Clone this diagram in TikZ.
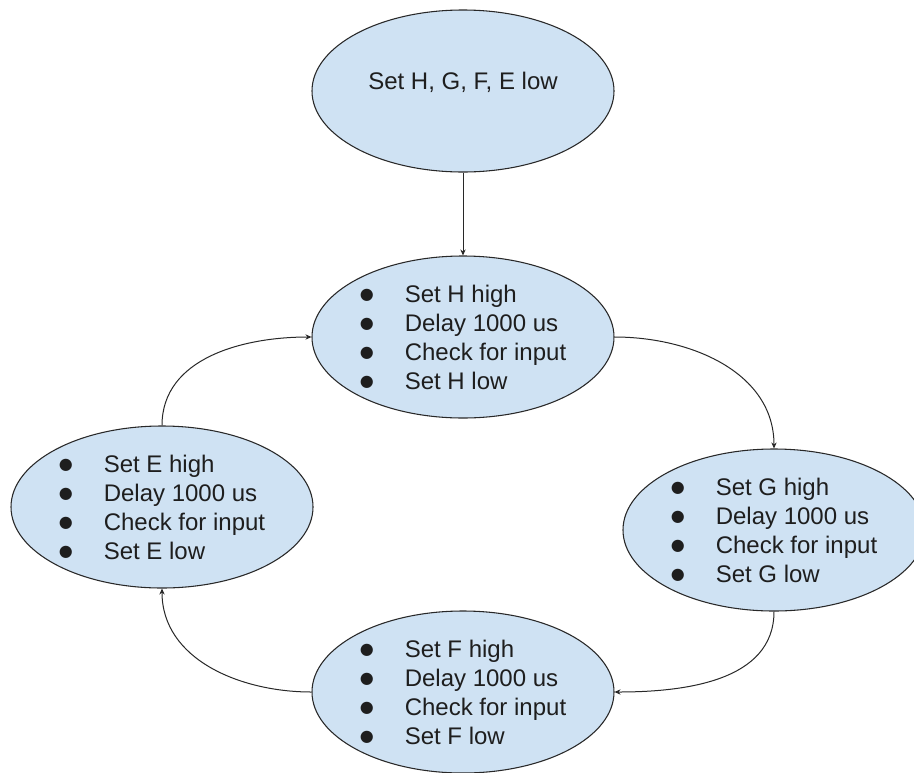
\documentclass[tikz,border=0pt]{standalone}
\usepackage{fontspec}
\setmainfont{Liberation Sans}
\newfontfamily\symfont{DejaVu Sans}
\usetikzlibrary{shapes.geometric,arrows.meta}
\definecolor{stateblue}{RGB}{207,226,243}
\definecolor{edgegray}{RGB}{40,40,40}
\definecolor{inkgray}{RGB}{30,30,30}
% list bullet followed by a fixed indent
\newcommand{\bul}{\makebox[33.75pt][l]{\raisebox{1.8pt}{\symfont\fontsize{12pt}{12pt}\selectfont ●}}}
\begin{document}
\begin{tikzpicture}[x=0.75pt,y=-0.75pt,
  state/.style={ellipse, draw=edgegray, line width=0.8pt, fill=stateblue,
    minimum width=226.5pt, minimum height=121.5pt, inner sep=0pt,
    align=left, text=inkgray, font=\fontsize{18pt}{21.75pt}\selectfont},
  plaintext/.style={inner sep=0pt, text=inkgray, font=\fontsize{18pt}{21.75pt}\selectfont},
  flow/.style={draw=edgegray, line width=0.75pt, -{Stealth[length=4.5pt,width=4pt]}}]
\useasboundingbox (0,0) rectangle (914,772);
\fill[white] (0,0) rectangle (914,772);
\clip (0,0) rectangle (914,772);

% initial state
\node[state] (init) at (463,91) {};
\node[plaintext] (initText) at (463,82) {Set H, G, F, E low};

% scan states
\node[state] (H) at (463,337) {\bul Set H high\\ \bul Delay 1000 us\\ \bul Check for input\\ \bul Set H low};
\node[state] (G) at (774,530) {\bul Set G high\\ \bul Delay 1000 us\\ \bul Check for input\\ \bul Set G low};
\node[state] (F) at (463,692) {\bul Set F high\\ \bul Delay 1000 us\\ \bul Check for input\\ \bul Set F low};
\node[state] (E) at (162,507) {\bul Set E high\\ \bul Delay 1000 us\\ \bul Check for input\\ \bul Set E low};

% transitions
\draw[flow] (init.south) -- (H.north);
\draw[flow] (H.east) to[out=0,in=90] (G.north);
\draw[flow] (G.south) to[out=-90,in=0] (F.east);
\draw[flow] (F.west) to[out=180,in=-90] (E.south);
\draw[flow] (E.north) to[out=90,in=180] (H.west);
\end{tikzpicture}
\end{document}
